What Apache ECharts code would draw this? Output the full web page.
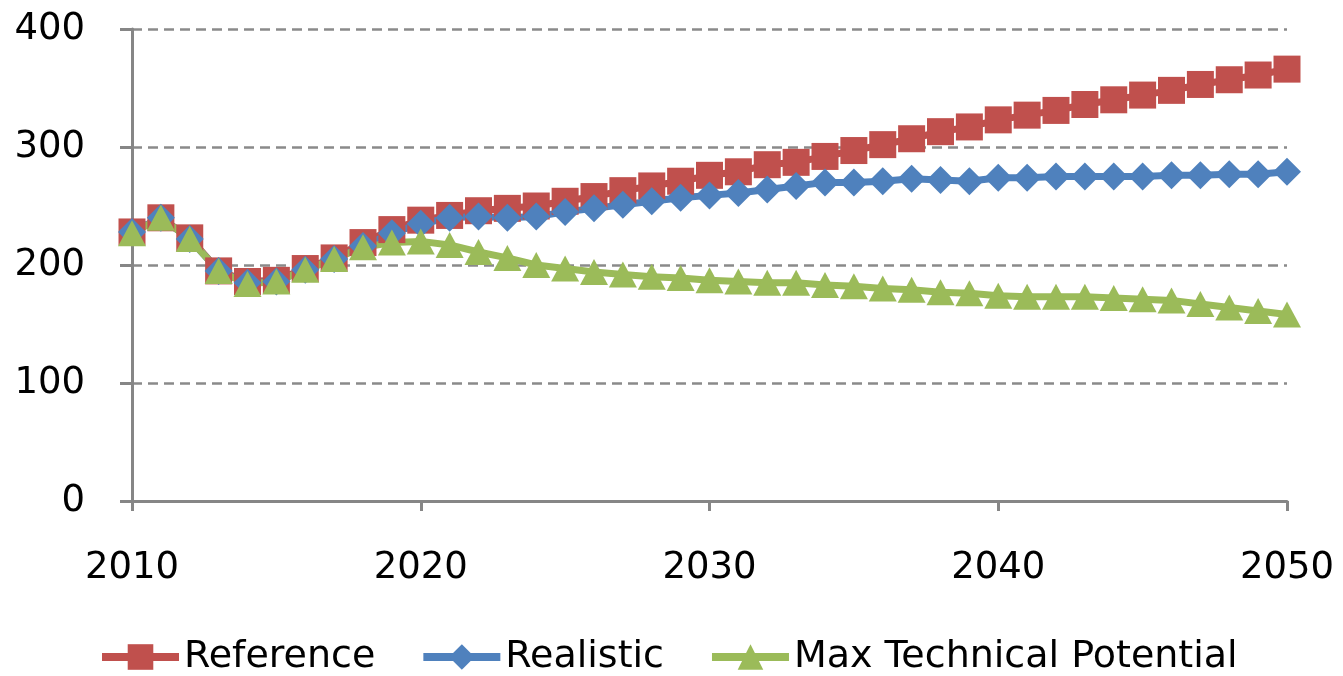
<!DOCTYPE html>
<html>
<head>
<meta charset="utf-8">
<script src="https://cdn.jsdelivr.net/npm/echarts@6/dist/echarts.min.js"></script>
<style>
html,body{margin:0;padding:0;background:#fff;}
#chart{width:1343px;height:676px;}
</style>
</head>
<body>
<div id="chart"></div>
<script>
const years = [];
for (let y = 2010; y <= 2050; y++) years.push(y);
const seriesNames = ['Reference', 'Realistic', 'Max Technical Potential'];
const referenceValues = [228,240,223,195,186,187,197,206,219,230,238,242,246,248,250,254,258,263,267,271,276,279,285,287,292,297,302,307,313,317,323,327,331,336,340,344,348,353,357,361,366];
const realisticValues = [228,240,222,195,185,186,196,205,216,227,235,240,241,240,241,245,248,251,254,257,259,261,264,267,270,270,271,273,272,271,274,274,275,275,275,275,276,276,277,277,279];
const maxTechValues = [227,240,222,195,184,186,196,205,215,219,220,217,211,206,200,197,194,192,190,189,187,186,185,185,183,182,180,179,177,176,174,173,173,173,172,171,170,167,164,161,158];
const yTicks = [0,100,200,300,400];
const xTicks = [2010,2020,2030,2040,2050];
const legendTextWidths = [198, 167, 474];

const pairs = vals => years.map((y, i) => [y, vals[i]]);
const FONT = 'DejaVu Sans';
const chart = echarts.init(document.getElementById('chart'));
chart.setOption({
  animation: false,
  backgroundColor: '#ffffff',
  grid: { left: 132, right: 56, top: 29, bottom: 175 },
  legend: {
    top: 638,
    left: 98,
    padding: 0,
    itemWidth: 77,
    itemHeight: 32,
    itemGap: 44,
    lineStyle: { width: 8 },
    textStyle: { fontFamily: FONT, fontSize: 38, color: '#000', padding: [0, 0, 0, 0] },
    data: seriesNames.map((n, i) => ({ name: n, textStyle: { width: legendTextWidths[i] } }))
  },
  xAxis: {
    type: 'value',
    min: xTicks[0], max: xTicks[xTicks.length - 1], interval: 10,
    axisLine: { lineStyle: { color: '#868686', width: 3 } },
    axisTick: { show: true, length: 10, lineStyle: { color: '#868686', width: 3 } },
    axisLabel: { fontFamily: FONT, fontSize: 37, color: '#000', margin: 49, formatter: v => String(v) },
    splitLine: { show: false }
  },
  yAxis: {
    type: 'value',
    min: yTicks[0], max: yTicks[yTicks.length - 1], interval: 100,
    axisLine: { show: true, lineStyle: { color: '#868686', width: 3 } },
    axisTick: { show: true, length: 12, lineStyle: { color: '#868686', width: 3 } },
    axisLabel: { fontFamily: FONT, fontSize: 37, color: '#000', margin: 47 },
    splitLine: { show: true, lineStyle: { color: '#8a8a8a', width: 2.5, type: [10, 6] } }
  },
  series: [
    {
      name: seriesNames[0], type: 'line', data: pairs(referenceValues),
      symbol: 'rect', symbolSize: 27,
      lineStyle: { color: '#C0504D', width: 7 },
      itemStyle: { color: '#C0504D' }
    },
    {
      name: seriesNames[1], type: 'line', data: pairs(realisticValues),
      symbol: 'diamond', symbolSize: [28, 28],
      lineStyle: { color: '#4F81BD', width: 7 },
      itemStyle: { color: '#4F81BD' }
    },
    {
      name: seriesNames[2], type: 'line', data: pairs(maxTechValues),
      symbol: 'triangle', symbolSize: [28, 26],
      lineStyle: { color: '#9BBB59', width: 7 },
      itemStyle: { color: '#9BBB59' }
    }
  ]
});
</script>
</body>
</html>
